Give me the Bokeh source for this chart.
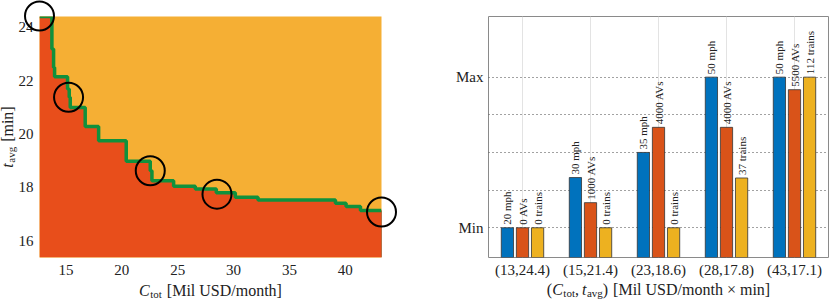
import math
from bokeh.plotting import figure
from bokeh.models import Range1d, FixedTicker
from bokeh.layouts import row
from bokeh.embed import file_html
from bokeh.resources import INLINE
from bokeh.core.properties import value

# ---------------- data: left panel (Pareto front) ----------------
cost_breaks = [12.64, 13.75, 13.90, 13.99, 15.15, 15.30, 15.39, 16.73, 17.93, 20.40,
               22.55, 22.70, 24.64, 26.58, 28.46, 30.16, 32.19, 39.12, 40.07, 41.36, 43.24]
time_levels = [24.41, 23.19, 22.50, 22.15, 21.69, 21.38, 21.00, 20.29, 19.75, 18.98,
               18.63, 18.25, 18.05, 17.94, 17.80, 17.63, 17.53, 17.41, 17.29, 17.14]
circ_cost = [12.64, 15.24, 22.55, 28.52, 43.24]
circ_time = [24.43, 21.38, 18.63, 17.75, 17.08]
cost_ticks = [15, 20, 25, 30, 35, 40]
time_ticks = [16, 18, 20, 22, 24]
cost_lim = (12.64, 43.24)
time_lim = (15.375, 24.41)

# ---------------- data: right panel (bars) ----------------
pairs = ["(13,24.4)", "(15,21.4)", "(23,18.6)", "(28,17.8)", "(43,17.1)"]
speed_mph = [20, 30, 35, 50, 50]
av_count = [0, 1000, 4000, 4000, 5500]
train_count = [0, 0, 0, 37, 112]
speed_span = (20, 50)
av_span = (0, 6000)
train_span = (0, 112)
level_ticks = [0, 1, 2, 3, 4]
level_names = {0: "Min", 4: "Max"}

FONT = "Liberation Serif"
TXT = "#222222"
YEL = "#F5AF34"
RED = "#E84E1B"
GREEN = "#10913C"
BLUE_B = "#0072BD"
RED_B = "#D95319"
YEL_B = "#EDB120"

W = {' ': 250, '(': 333, ')': 333, ',': 250, '.': 250, '[': 333, ']': 333, '/': 278, '×': 564,
     'M': 889, 'U': 722, 'S': 556, 'D': 722, 'C': 667, 'A': 722, 'V': 722,
     'a': 444, 'c': 444, 'e': 444, 'g': 500, 'h': 500, 'i': 278, 'l': 278, 'm': 778,
     'n': 500, 'o': 500, 'p': 500, 'r': 333, 's': 389, 't': 278, 'v': 500, 'y': 500}


def tw(s, size):
    return sum(W.get(c, 500) for c in s) * size / 1000.0


def lab(p, text, x, y, xo, yo, size, italic=False, angle=0.0):
    r = p.text(x=[x], y=[y], text=[text], x_offset=xo, y_offset=yo, angle=angle,
               text_font=value(FONT), text_font_size=f"{size}px",
               text_font_style="italic" if italic else "normal",
               text_align="left", text_baseline="alphabetic", text_color=TXT)
    r.level = "overlay"


def compose(p, pieces, x, y, base_off, horizontal=True, other=0.0):
    """pieces: (text, size, italic, sub_shift, gap_before); offsets in screen px (y down)"""
    total = sum(tw(t, s) + g for t, s, it, sh, g in pieces)
    pos = -total / 2.0
    for t, s, it, sh, g in pieces:
        pos += g
        if horizontal:
            lab(p, t, x, y, pos, base_off + sh, s, it)
        else:
            lab(p, t, x, y, other + sh, -pos, s, it, angle=math.pi / 2)
        pos += tw(t, s)


TS = 15     # tick font size
TT = 16     # title font size
SB = 11     # subscript size
SH = 3.0    # subscript shift

# ---------------- left figure ----------------
p1 = figure(width=420, height=299, x_range=Range1d(*cost_lim), y_range=Range1d(*time_lim),
            output_backend="svg", toolbar_location=None,
            min_border_left=39, min_border_right=39, min_border_top=16, min_border_bottom=42,
            background_fill_color=YEL, outline_line_color=None, border_fill_color="white")
p1.grid.visible = False
p1.xaxis.ticker = cost_ticks
p1.yaxis.ticker = time_ticks
for ax in (p1.xaxis, p1.yaxis):
    ax.axis_line_color = None
    ax.major_tick_line_color = None
    ax.minor_tick_line_color = None
    ax.major_tick_out = 0
    ax.major_tick_in = 0
    ax.minor_tick_out = 0
    ax.major_label_text_font = FONT
    ax.major_label_text_font_size = f"{TS}px"
    ax.major_label_text_color = TXT
p1.xaxis.major_label_standoff = 7
p1.yaxis.major_label_standoff = 6

vx, vy = [], []
for i, t in enumerate(time_levels):
    vx += [cost_breaks[i], cost_breaks[i + 1]]
    vy += [t, t]
p1.patch([cost_breaks[0]] + vx + [cost_breaks[-1]], [time_lim[0]] + vy + [time_lim[0]],
         fill_color=RED, line_color=None)
p1.line([cost_breaks[-1], cost_breaks[-1]], [time_levels[-1], time_lim[0]],
        line_color="#7a2a10", line_width=1)
p1.line(vx, vy, line_color=GREEN, line_width=3.5)
rc = p1.scatter(circ_cost, circ_time, marker="circle", size=29, fill_color=None,
                line_color="black", line_width=2)
rc.level = "overlay"

xmid = (cost_lim[0] + cost_lim[1]) / 2
compose(p1, [("C", TT, True, 0, 0), ("tot", SB, False, SH, 0.5), ("[Mil USD/month]", TT, False, 0, 5)],
        xmid, time_lim[0], 33)
ymid = (time_lim[0] + time_lim[1]) / 2
compose(p1, [("t", TT, True, 0, 0), ("avg", SB, False, SH, 0.5), ("[min]", TT, False, 0, 5)],
        cost_lim[0], ymid, 0, horizontal=False, other=-32)

# ---------------- right figure ----------------
y0 = -0.79
p2 = figure(width=409, height=299, x_range=Range1d(0.5, 5.5), y_range=Range1d(y0, 5.61),
            output_backend="svg", toolbar_location=None,
            min_border_left=68, min_border_right=1, min_border_top=16, min_border_bottom=42,
            outline_line_color="#8a8a8a", outline_line_width=1)
p2.xaxis.ticker = [1, 2, 3, 4, 5]
p2.xaxis.major_label_overrides = {i + 1: s for i, s in enumerate(pairs)}
p2.yaxis.ticker = [level_ticks[0], level_ticks[-1]]
p2.yaxis.major_label_overrides = level_names
for ax in (p2.xaxis, p2.yaxis):
    ax.axis_line_color = None
    ax.major_tick_line_color = None
    ax.minor_tick_line_color = None
    ax.major_tick_out = 0
    ax.major_tick_in = 0
    ax.minor_tick_out = 0
    ax.major_label_text_font = FONT
    ax.major_label_text_font_size = f"{TS}px"
    ax.major_label_text_color = TXT
p2.xaxis.major_label_standoff = 4
p2.yaxis.major_label_standoff = 5
p2.xgrid.grid_line_color = "#e3e3e3"
p2.xgrid.grid_line_width = 1
p2.ygrid.ticker = FixedTicker(ticks=level_ticks)
p2.ygrid.grid_line_color = "#444444"
p2.ygrid.grid_line_dash = "1 3"
p2.ygrid.grid_line_width = 1


def norm(vals, span):
    return [level_ticks[-1] * (v - span[0]) / (span[1] - span[0]) for v in vals]


series = [
    (norm(speed_mph, speed_span), [f"{v} mph" for v in speed_mph], BLUE_B, -0.222),
    (norm(av_count, av_span), [f"{v} AVs" for v in av_count], RED_B, 0.0),
    (norm(train_count, train_span), [f"{v} trains" for v in train_count], YEL_B, 0.222),
]
for heights, texts, col, off in series:
    xs = [i + 1 + off for i in range(len(heights))]
    p2.vbar(x=xs, top=heights, bottom=y0, width=0.18, fill_color=col,
            line_color="#333333", line_width=0.8)
    p2.text(x=xs, y=heights, text=texts, angle=math.pi / 2, text_align="left",
            text_baseline="middle", y_offset=-3, text_font=value(FONT),
            text_font_size="11px", text_color=TXT)

compose(p2, [("(", TT, False, 0, 0), ("C", TT, True, 0, 0), ("tot", SB, False, SH, 0.5),
             (",", TT, False, 0, 0), ("t", TT, True, 0, 3), ("avg", SB, False, SH, 0.5),
             (")", TT, False, 0, 0), ("[Mil USD/month × min]", TT, False, 0, 5)],
        3.0, y0, 32)

layout = row(p1, p2)
open("out.html", "w").write(file_html(layout, INLINE))
